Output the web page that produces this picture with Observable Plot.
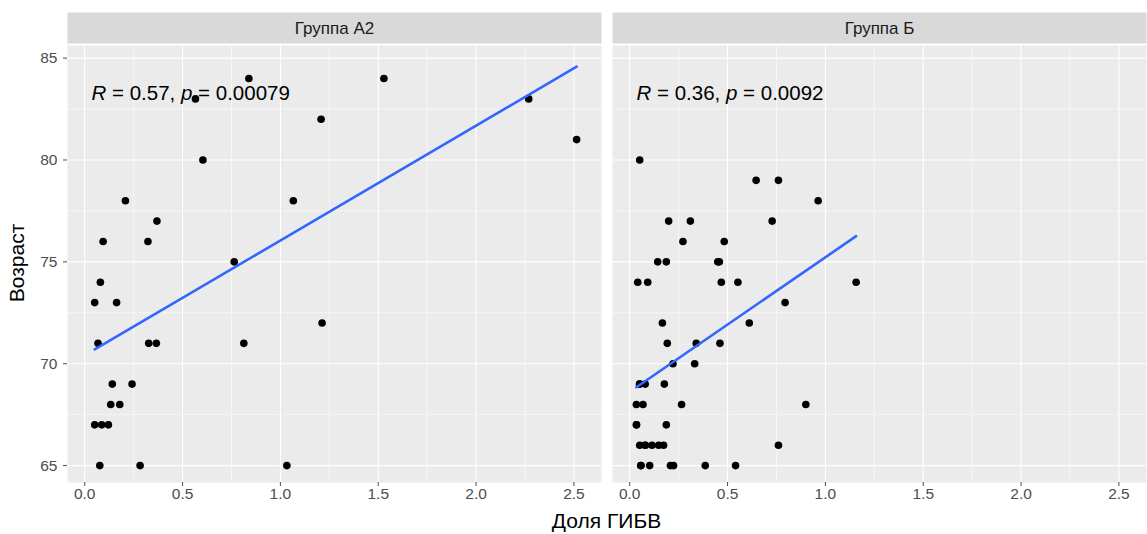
<!DOCTYPE html>
<html><head><meta charset="utf-8">
<script src="https://cdn.jsdelivr.net/npm/d3@7"></script>
<script src="https://cdn.jsdelivr.net/npm/@observablehq/plot@0.6"></script>
<style>body{margin:0;background:#fff;}</style>
</head><body><div id="chart"></div>
<script>
const groups = ["Группа А2", "Группа Б"];
const a2Share = [0.839,0.566,1.208,0.604,0.208,1.066,0.369,0.094,0.323,0.764,1.529,2.269,2.514,0.080,0.051,0.163,1.213,0.068,0.327,0.366,0.813,0.141,0.242,0.133,0.179,0.051,0.087,0.121,0.077,0.283,1.033];
const a2Age   = [84,83,82,80,78,78,77,76,76,75,84,83,81,74,73,73,72,71,71,71,71,69,69,68,68,67,67,67,65,65,65];
const bShare = [0.051,0.646,0.760,0.963,0.199,0.310,0.728,0.272,0.483,0.143,0.187,0.450,0.458,0.041,0.092,0.468,0.553,1.157,0.794,0.167,0.611,0.192,0.340,0.461,0.221,0.332,0.051,0.079,0.177,0.034,0.068,0.265,0.900,0.034,0.187,0.051,0.079,0.114,0.148,0.173,0.760,0.058,0.102,0.208,0.224,0.386,0.541,0.056,0.080,0.050,0.035];
const bAge   = [80,79,79,78,77,77,77,76,76,75,75,75,75,74,74,74,74,74,73,72,72,71,71,71,70,70,69,69,69,68,68,68,68,67,67,66,66,66,66,66,66,65,65,65,65,65,65,65,66,69,67];
const corR = ["0.57", "0.36"];
const corP = ["0.00079", "0.0092"];
const xTicks = [0, 0.5, 1, 1.5, 2, 2.5];
const xMinor = [0.25, 0.75, 1.25, 1.75, 2.25];
const yTicks = [65, 70, 75, 80, 85];
const yMinor = [67.5, 72.5, 77.5, 82.5];

const data = [
  ...a2Share.map((x, i) => ({group: groups[0], x, y: a2Age[i]})),
  ...bShare.map((x, i) => ({group: groups[1], x, y: bAge[i]}))
];
const stats = groups.map((g, i) => ({group: g, r: corR[i], p: corP[i]}));

const chart = Plot.plot({
  width: 1147, height: 534,
  marginLeft: 66, marginRight: 0, marginTop: 45, marginBottom: 52,
  style: {fontFamily: "'Liberation Sans', Arial, sans-serif", fontSize: "15px", background: "white"},
  fx: {domain: groups, padding: 0.02, axis: null},
  x: {domain: [-0.088, 2.641], axis: null},
  y: {domain: [64.17, 85.62], axis: null},
  marks: [
    Plot.frame({fill: "#EBEBEB"}),
    Plot.frame({fill: "#D9D9D9", insetTop: -33, insetBottom: 439}),
    Plot.text(groups, {fx: d => d, text: d => d, frameAnchor: "top", dy: -17, lineAnchor: "middle", fill: "#1A1A1A", fontSize: 17}),
    Plot.ruleX(xMinor, {stroke: "white", strokeWidth: 0.55}),
    Plot.ruleY(yMinor, {stroke: "white", strokeWidth: 0.55}),
    Plot.ruleX(xTicks, {stroke: "white", strokeWidth: 1.1}),
    Plot.ruleY(yTicks, {stroke: "white", strokeWidth: 1.1}),
    Plot.axisX({ticks: xTicks, tickFormat: d3.format(".1f"), tickSize: 4, tickPadding: 1, label: null, color: "#4D4D4D", fontSize: 15.5}),
    Plot.axisY({ticks: yTicks, tickSize: 4, tickPadding: 6, label: null, color: "#4D4D4D", fontSize: 15.5}),
    Plot.dot(data, {fx: "group", x: "x", y: "y", fill: "black", r: 3.8}),
    Plot.linearRegressionY(data, {fx: "group", x: "x", y: "y", stroke: "#3366FF", strokeWidth: 2.6, ci: 0}),
    Plot.text(stats, {fx: "group", text: d => `R = ${d.r}, p = ${d.p}`, frameAnchor: "top-left", dx: 24, dy: 48, textAnchor: "start", lineAnchor: "middle", fontSize: 20.5, fill: "black"})
  ]
});
document.getElementById("chart").appendChild(chart);

// italic R and p
const svg = d3.select(chart);
svg.selectAll("text").each(function() {
  const t = this.textContent;
  const m = /^R = (.+), p = (.+)$/.exec(t);
  if (!m) return;
  const el = d3.select(this);
  el.text(null);
  el.append("tspan").attr("font-style", "italic").text("R");
  el.append("tspan").text(` = ${m[1]}, `);
  el.append("tspan").attr("font-style", "italic").text("p");
  el.append("tspan").text(` = ${m[2]}`);
});
// axis titles
svg.append("text").attr("x", 606.5).attr("y", 522).attr("text-anchor", "middle").attr("dominant-baseline", "middle")
  .attr("font-size", 21).attr("fill", "black").text("Доля ГИБВ");
svg.append("text").attr("transform", "translate(18,263) rotate(-90)").attr("text-anchor", "middle").attr("dominant-baseline", "middle")
  .attr("font-size", 21).attr("fill", "black").text("Возраст");
</script>
</body></html>
